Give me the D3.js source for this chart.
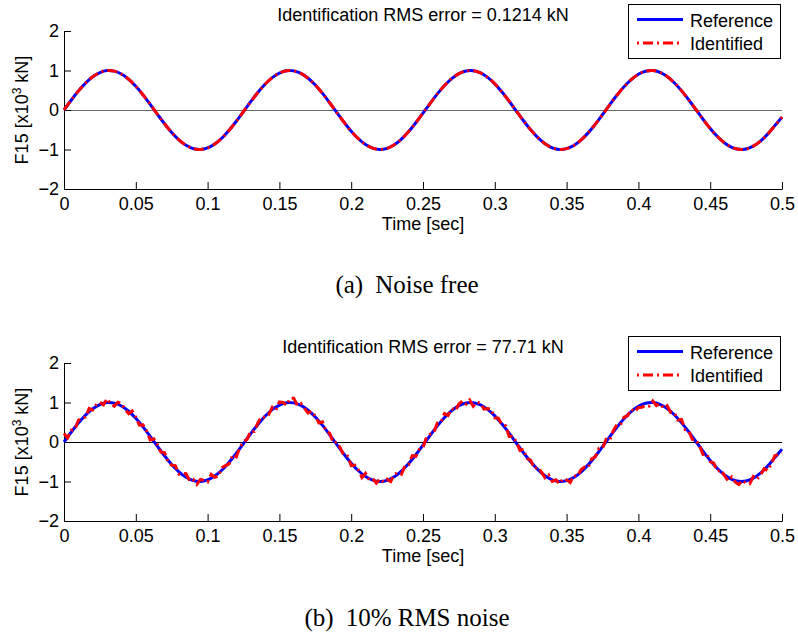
<!DOCTYPE html>
<html><head><meta charset="utf-8">
<script src="https://cdn.jsdelivr.net/npm/d3@7"></script>
<style>body{margin:0;background:#fff}svg{display:block}</style>
</head><body>
<svg id="c" width="798" height="635"></svg>
<script>
// ---- data ----
const sampleTimes = d3.range(101).map(i => +(i * 0.005).toFixed(4));      // 0 .. 0.5 s
const noisyTimes = d3.range(201).map(i => +(i * 0.0025).toFixed(4));      // 0 .. 0.5 s
const referenceForce = [
  0.000, 0.247, 0.479, 0.681, 0.841, 0.949, 0.998, 0.984, 0.910, 0.779,
  0.600, 0.384, 0.144, -0.105, -0.348, -0.569, -0.754, -0.893, -0.977, -0.999,
  -0.960, -0.862, -0.709, -0.513, -0.285, -0.039, 0.209, 0.444, 0.652, 0.819,
  0.935, 0.994, 0.990, 0.926, 0.803, 0.632, 0.420, 0.183, -0.066, -0.310,
  -0.536, -0.728, -0.875, -0.967, -1.000, -0.971, -0.881, -0.737, -0.547, -0.323,
  -0.079, 0.170, 0.408, 0.621, 0.796, 0.921, 0.989, 0.995, 0.940, 0.827,
  0.662, 0.456, 0.222, -0.026, -0.273, -0.502, -0.700, -0.855, -0.957, -0.999,
  -0.979, -0.899, -0.763, -0.579, -0.360, -0.118, 0.131, 0.372, 0.590, 0.771,
  0.905, 0.982, 0.998, 0.953, 0.848, 0.691, 0.490, 0.260, 0.013, -0.234,
  -0.467, -0.671, -0.834, -0.944, -0.996, -0.987, -0.916, -0.788, -0.611, -0.396,
  -0.180
];
const identifiedNoiseFree = [
  0.002, 0.246, 0.478, 0.682, 0.840, 0.950, 0.997, 0.985, 0.909, 0.780,
  0.599, 0.385, 0.143, -0.104, -0.349, -0.568, -0.755, -0.892, -0.978, -0.998,
  -0.961, -0.861, -0.710, -0.512, -0.286, -0.038, 0.208, 0.445, 0.651, 0.820,
  0.934, 0.995, 0.989, 0.927, 0.802, 0.633, 0.419, 0.184, -0.067, -0.309,
  -0.537, -0.727, -0.876, -0.966, -0.999, -0.972, -0.880, -0.738, -0.546, -0.324,
  -0.078, 0.169, 0.409, 0.620, 0.797, 0.920, 0.990, 0.994, 0.941, 0.826,
  0.663, 0.455, 0.223, -0.027, -0.272, -0.503, -0.699, -0.856, -0.956, -1.000,
  -0.978, -0.900, -0.762, -0.580, -0.359, -0.119, 0.132, 0.371, 0.591, 0.770,
  0.906, 0.981, 0.999, 0.952, 0.849, 0.690, 0.491, 0.259, 0.014, -0.235,
  -0.466, -0.672, -0.833, -0.945, -0.995, -0.988, -0.915, -0.789, -0.610, -0.397,
  -0.181
];
const identifiedNoisy = [
  0.220, 0.105, 0.297, 0.306, 0.549, 0.605, 0.631, 0.847, 0.811, 0.942,
  1.009, 0.941, 1.098, 0.969, 0.904, 1.005, 0.980, 0.831, 0.719, 0.785,
  0.630, 0.426, 0.434, 0.286, 0.054, 0.080, -0.065, -0.258, -0.268, -0.512,
  -0.589, -0.597, -0.814, -0.790, -0.803, -0.982, -0.947, -1.076, -0.949, -0.967,
  -1.010, -0.818, -0.892, -0.862, -0.649, -0.596, -0.553, -0.322, -0.375, -0.133,
  0.011, 0.066, 0.279, 0.269, 0.484, 0.642, 0.622, 0.691, 0.879, 0.804,
  1.015, 1.002, 0.934, 1.110, 1.110, 0.926, 0.976, 0.851, 0.733, 0.783,
  0.652, 0.480, 0.510, 0.274, 0.223, -0.021, -0.006, -0.160, -0.350, -0.356,
  -0.596, -0.587, -0.708, -0.898, -0.795, -0.958, -0.927, -1.041, -0.930, -1.013,
  -0.941, -1.003, -0.821, -0.775, -0.817, -0.597, -0.577, -0.348, -0.363, -0.183,
  -0.139, 0.126, 0.200, 0.241, 0.478, 0.499, 0.721, 0.674, 0.846, 0.795,
  0.961, 1.043, 0.959, 1.060, 0.905, 1.005, 0.990, 0.831, 0.847, 0.830,
  0.612, 0.603, 0.436, 0.412, 0.142, 0.149, 0.004, -0.211, -0.183, -0.421,
  -0.462, -0.676, -0.640, -0.764, -0.905, -0.833, -0.997, -0.956, -1.059, -0.927,
  -0.959, -1.027, -0.849, -0.868, -0.703, -0.636, -0.649, -0.423, -0.380, -0.161,
  -0.158, 0.067, 0.041, 0.284, 0.442, 0.435, 0.630, 0.666, 0.831, 0.765,
  0.875, 0.881, 0.932, 0.908, 1.038, 0.923, 0.973, 0.858, 0.918, 0.746,
  0.741, 0.555, 0.570, 0.318, 0.290, 0.068, 0.063, -0.091, -0.314, -0.293,
  -0.497, -0.534, -0.741, -0.709, -0.854, -0.986, -0.884, -1.018, -1.076, -0.969,
  -1.047, -1.059, -0.876, -0.949, -0.838, -0.675, -0.721, -0.568, -0.346, -0.320,
  -0.280
];
const xTickValues = [0, 0.05, 0.1, 0.15, 0.2, 0.25, 0.3, 0.35, 0.4, 0.45, 0.5];
const xTickLabels = ["0", "0.05", "0.1", "0.15", "0.2", "0.25", "0.3", "0.35", "0.4", "0.45", "0.5"];
const yTickValues = [-2, -1, 0, 1, 2];
const yTickLabels = ["\u22122", "\u22121", "0", "1", "2"];
const panelTitles = ["Identification RMS error = 0.1214 kN", "Identification RMS error = 77.71 kN"];
const panelCaptions = [["(a)", "Noise free"], ["(b)", "10% RMS noise"]];
const legendLabels = ["Reference", "Identified"];

// ---- drawing ----
const svg = d3.select("#c");
const FONT = "'Liberation Sans', Arial, Helvetica, sans-serif";
const SERIF = "'Liberation Serif', 'Times New Roman', serif";
const left = 64, right = 782;
const x = d3.scaleLinear().domain([0, 0.5]).range([left, right]);

const panels = [
  { top: 31, bottom: 189, ident: identifiedNoiseFree, identTimes: sampleTimes, zeroColor: "#6a6a6a", curve: d3.curveCatmullRom, capY: 293 },
  { top: 363, bottom: 521, ident: identifiedNoisy, identTimes: noisyTimes, zeroColor: "#000", curve: d3.curveLinear, capY: 626 }
];

panels.forEach((p, pi) => {
  const y = d3.scaleLinear().domain([-2, 2]).range([p.bottom, p.top]);
  const g = svg.append("g");

  // zero line
  g.append("line").attr("x1", left).attr("x2", right)
    .attr("y1", y(0) + 0.5).attr("y2", y(0) + 0.5)
    .attr("stroke", p.zeroColor).attr("stroke-width", 1);

  // axes
  const xAxis = d3.axisBottom(x).tickValues(xTickValues)
    .tickFormat((d, i) => xTickLabels[i]).tickSizeInner(-7).tickSizeOuter(0).tickPadding(8);
  const gx = g.append("g").attr("transform", `translate(0,${p.bottom})`).call(xAxis);
  const yAxis = d3.axisLeft(y).tickValues(yTickValues)
    .tickFormat((d, i) => yTickLabels[i]).tickSizeInner(-7).tickSizeOuter(0).tickPadding(5);
  const gy = g.append("g").attr("transform", `translate(${left},0)`).call(yAxis);
  [gx, gy].forEach(a => {
    a.selectAll("text").attr("font-family", FONT).attr("font-size", 18).attr("fill", "#000");
    a.selectAll("path,line").attr("stroke", "#000").attr("stroke-width", 1);
  });

  // lines
  const refLine = d3.line().x((d, i) => x(sampleTimes[i])).y(d => y(d)).curve(d3.curveCatmullRom);
  g.append("path").datum(referenceForce)
    .attr("d", refLine)
    .attr("fill", "none").attr("stroke", "#0000ff").attr("stroke-width", 3);
  const idLine = d3.line().x((d, i) => x(p.identTimes[i])).y(d => y(d)).curve(p.curve);
  g.append("path").datum(p.ident)
    .attr("d", idLine)
    .attr("fill", "none").attr("stroke", "#ff0000").attr("stroke-width", 3)
    .attr("stroke-dasharray", "10,4,2,4");

  // title
  g.append("text").attr("x", (left + right) / 2).attr("y", p.top - 10)
    .attr("text-anchor", "middle").attr("font-family", FONT).attr("font-size", 18)
    .text(panelTitles[pi]);

  // axis labels
  g.append("text").attr("x", (left + right) / 2).attr("y", p.bottom + 41)
    .attr("text-anchor", "middle").attr("font-family", FONT).attr("font-size", 18)
    .text("Time [sec]");
  const yl = g.append("text")
    .attr("transform", `translate(28,${(p.top + p.bottom) / 2}) rotate(-90)`)
    .attr("text-anchor", "middle").attr("font-family", FONT).attr("font-size", 18);
  yl.append("tspan").text("F15 [x10");
  yl.append("tspan").attr("font-size", 12).attr("dy", -7).text("3");
  yl.append("tspan").attr("dy", 7).text(" kN]");

  // legend
  const lx = 628, ly = p.top - 27, lw = 152, lh = 54;
  const lg = g.append("g");
  lg.append("rect").attr("x", lx + 0.5).attr("y", ly + 0.5).attr("width", lw).attr("height", lh)
    .attr("fill", "#fff").attr("stroke", "#000").attr("stroke-width", 1);
  const legendStyles = [
    { color: "#0000ff", dash: null },
    { color: "#ff0000", dash: "2,4,10,4" }
  ];
  legendLabels.forEach((lab, i) => {
    const cy = ly + 15.5 + i * 23.5;
    const ln = lg.append("line").attr("x1", lx + 9).attr("x2", lx + 55)
      .attr("y1", cy).attr("y2", cy)
      .attr("stroke", legendStyles[i].color).attr("stroke-width", 3);
    if (legendStyles[i].dash) ln.attr("stroke-dasharray", legendStyles[i].dash);
    lg.append("text").attr("x", lx + 62).attr("y", cy + 7)
      .attr("font-family", FONT).attr("font-size", 18).text(lab);
  });

  // caption
  const cap = svg.append("text").attr("x", 407).attr("y", p.capY)
    .attr("text-anchor", "middle").attr("font-family", SERIF).attr("font-size", 25);
  cap.append("tspan").text(panelCaptions[pi][0]);
  cap.append("tspan").attr("dx", 12).text(panelCaptions[pi][1]);
});
</script>
</body></html>
